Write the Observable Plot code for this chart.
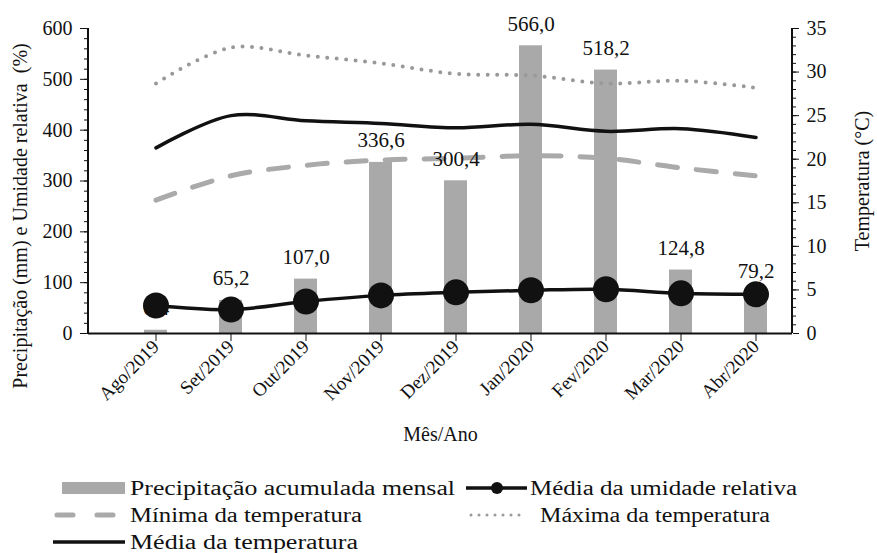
<!DOCTYPE html>
<html>
<head>
<meta charset="utf-8">
<script src="https://cdn.jsdelivr.net/npm/d3@7"></script>
<script src="https://cdn.jsdelivr.net/npm/@observablehq/plot@0.6"></script>
<style>
  html, body { margin: 0; padding: 0; background: #fff; }
  #chart svg { display: block; }
  #chart svg text { font-family: "Times New Roman", Times, "Liberation Serif", Tinos, "DejaVu Serif", "Noto Serif", serif !important; }
</style>
</head>
<body>
<div id="chart"></div>
<script>
const months = ["Ago/2019","Set/2019","Out/2019","Nov/2019","Dez/2019","Jan/2020","Fev/2020","Mar/2020","Abr/2020"];
const precip = [6.4, 65.2, 107.0, 336.6, 300.4, 566.0, 518.2, 124.8, 79.2];
const humidity = [55, 47, 63, 75, 81, 85, 87, 79, 77];
const tempMin = [15.3, 18.1, 19.3, 19.9, 20.1, 20.4, 20.1, 19.0, 18.1];
const tempMax = [28.7, 32.8, 31.9, 31.0, 29.8, 29.6, 28.7, 29.0, 28.2];
const tempMean = [21.3, 25.0, 24.4, 24.1, 23.6, 24.0, 23.2, 23.5, 22.5];
const leftTicks = [0, 100, 200, 300, 400, 500, 600];
const rightTicks = [0, 5, 10, 15, 20, 25, 30, 35];
const leftLabel = "Precipitação (mm) e Umidade relativa  (%)";
const rightLabel = "Temperatura (°C)";
const xLabel = "Mês/Ano";
const legendItems = ["Precipitação acumulada  mensal", "Média da umidade relativa", "Mínima da temperatura", "Máxima da temperatura", "Média da temperatura"];

const K = 600 / 35; // temperature -> left-scale units
const data = months.map((m, i) => ({
  month: m, precip: precip[i], hum: humidity[i],
  tmin: tempMin[i] * K, tmax: tempMax[i] * K, tmean: tempMean[i] * K
}));
const fmt = v => d3.format(".1f")(v).replace(".", ",");
const FONT = "'Times New Roman', Times, 'Liberation Serif', Tinos, 'DejaVu Serif', serif";

const W = 877, H = 460, ML = 88, MR = 85, MT = 28, MB = 127;

const plot = Plot.plot({
  width: W, height: H,
  marginLeft: ML, marginRight: MR, marginTop: MT, marginBottom: MB,
  style: { fontFamily: FONT, fontSize: "20px", color: "#111", background: "#fff" },
  x: { type: "band", domain: months, range: [117.5, 793.5], paddingInner: 0.69, paddingOuter: 0.345, label: null },
  y: { domain: [0, 600], range: [H - MB, MT], label: null },
  marks: [
    Plot.barY(data, { x: "month", y: "precip", fill: "#a9a9a9" }),
    Plot.line(data, { x: "month", y: "tmax", stroke: "#999", strokeWidth: 4, strokeDasharray: "0 9.5", strokeLinecap: "round", curve: "catmull-rom" }),
    Plot.line(data, { x: "month", y: "tmin", stroke: "#aaa", strokeWidth: 5, strokeDasharray: "20 19", strokeLinecap: "round", curve: "catmull-rom" }),
    Plot.line(data, { x: "month", y: "tmean", stroke: "#111", strokeWidth: 3.5, curve: "catmull-rom" }),
    Plot.text(data, { x: "month", y: "precip", text: d => fmt(d.precip), dy: -22, fontSize: 21, fill: "#111" }),
    Plot.line(data, { x: "month", y: "hum", stroke: "#111", strokeWidth: 3.5, curve: "catmull-rom" }),
    Plot.dot(data, { x: "month", y: "hum", r: 13, fill: "#111", stroke: "none" }),
    Plot.ruleY([0], { stroke: "#111", strokeWidth: 2 }),
    Plot.axisY({ anchor: "left", ticks: leftTicks, tickSize: 8, tickPadding: 8, tickFormat: d => d, fontSize: 20, label: null }),
    Plot.axisY({ anchor: "left", ticks: d3.range(0, 601, 20), tickSize: 4, tickFormat: () => "", label: null }),
    Plot.axisY({ anchor: "right", ticks: rightTicks.map(t => t * K), tickSize: 6, tickPadding: 8, tickFormat: v => Math.round(v / K), fontSize: 20, label: null }),
    Plot.axisY({ anchor: "right", ticks: d3.range(0, 36, 1).map(t => t * K), tickSize: 3, tickFormat: () => "", label: null }),
    Plot.axisX({ anchor: "bottom", tickSize: 8, tickPadding: 2, tickRotate: -45, fontSize: 19, label: null }),
    Plot.text([xLabel], { frameAnchor: "bottom", dy: 107, fontSize: 20, fill: "#111" }),
    Plot.text([leftLabel], { frameAnchor: "left", textAnchor: "middle", rotate: -90, dx: -68, dy: 35, fontSize: 20, fill: "#111" }),
    Plot.text([rightLabel], { frameAnchor: "right", textAnchor: "middle", rotate: -90, dx: 70, fontSize: 20, fill: "#111" })
  ]
});

const ys = plot.scale("y");
const svgSel = d3.select(plot);
[ML, W - MR].forEach(x => {
  svgSel.append("line").attr("x1", x).attr("x2", x)
    .attr("y1", ys.range[0]).attr("y2", ys.range[1])
    .attr("stroke", "#111").attr("stroke-width", 2);
});
document.getElementById("chart").appendChild(plot);

// legend
const leg = d3.create("svg").attr("width", W).attr("height", 553 - H)
  .style("font-family", FONT).style("display", "block");
const textOpts = (sel) => sel.attr("font-size", 20).attr("fill", "#111").attr("lengthAdjust", "spacingAndGlyphs");
leg.append("rect").attr("x", 62).attr("y", 22).attr("width", 63).attr("height", 12).attr("fill", "#a9a9a9");
textOpts(leg.append("text").attr("x", 130).attr("y", 35).attr("textLength", 325).text(legendItems[0]));
leg.append("line").attr("x1", 466).attr("x2", 527).attr("y1", 28).attr("y2", 28).attr("stroke", "#111").attr("stroke-width", 3.5);
leg.append("circle").attr("cx", 497).attr("cy", 28).attr("r", 6).attr("fill", "#111");
textOpts(leg.append("text").attr("x", 530).attr("y", 35).attr("textLength", 267).text(legendItems[1]));
leg.append("line").attr("x1", 57).attr("x2", 125).attr("y1", 55).attr("y2", 55).attr("stroke", "#aaa").attr("stroke-width", 5)
  .attr("stroke-dasharray", "16 24").attr("stroke-linecap", "round");
textOpts(leg.append("text").attr("x", 130).attr("y", 62).attr("textLength", 232).text(legendItems[2]));
leg.append("line").attr("x1", 471).attr("x2", 527).attr("y1", 55).attr("y2", 55).attr("stroke", "#999").attr("stroke-width", 3)
  .attr("stroke-dasharray", "0 8").attr("stroke-linecap", "round");
textOpts(leg.append("text").attr("x", 540).attr("y", 62).attr("textLength", 230).text(legendItems[3]));
leg.append("line").attr("x1", 53).attr("x2", 125).attr("y1", 82).attr("y2", 82).attr("stroke", "#111").attr("stroke-width", 3.5);
textOpts(leg.append("text").attr("x", 130).attr("y", 89).attr("textLength", 228).text(legendItems[4]));
document.getElementById("chart").appendChild(leg.node());
</script>
</body>
</html>
